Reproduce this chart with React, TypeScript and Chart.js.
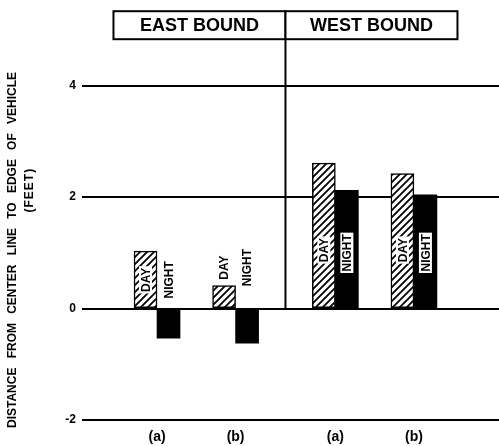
import { useEffect, useRef } from "react";
import { Chart, registerables } from "chart.js";

Chart.register(...registerables);

// ---- data ----
const groups = ["(a)", "(b)", "(a)", "(b)"];
const directions = ["EAST BOUND", "WEST BOUND"];
const seriesNames = ["DAY", "NIGHT"];
const dayValues = [1.03, 0.41, 2.61, 2.42];
const nightValues = [-0.53, -0.62, 2.12, 2.04];
const yTicks = [-2, 0, 2, 4];
const yTitle = ["DISTANCE FROM CENTER LINE TO EDGE OF VEHICLE", "(FEET)"];

// ---- layout helpers ----
const groupGap = 0.27; // extra space between the two directions
const xOf = (i: number) => i + (i >= 2 ? groupGap : 0);
const FONT = '"Liberation Sans", Arial, sans-serif';

function makeHatch(): CanvasPattern | string {
  const c = document.createElement("canvas");
  const s = 7;
  c.width = s;
  c.height = s;
  const g = c.getContext("2d");
  if (!g) return "#fff";
  g.fillStyle = "#fff";
  g.fillRect(0, 0, s, s);
  g.strokeStyle = "#000";
  g.lineWidth = 1.8;
  g.beginPath();
  g.moveTo(-1, s + 1);
  g.lineTo(s + 1, -1);
  g.moveTo(-1, 1);
  g.lineTo(1, -1);
  g.moveTo(s - 1, s + 1);
  g.lineTo(s + 1, s - 1);
  g.stroke();
  const p = g.createPattern(c, "repeat");
  return p || "#fff";
}

function drawVLabel(ctx: CanvasRenderingContext2D, text: string, cx: number, cy: number, bg: boolean) {
  ctx.save();
  ctx.translate(cx, cy);
  ctx.rotate(-Math.PI / 2);
  ctx.font = `bold 12px ${FONT}`;
  const w = ctx.measureText(text).width;
  if (bg) {
    ctx.fillStyle = "#fff";
    ctx.fillRect(-w / 2 - 1.5, -6.5, w + 3, 13);
  }
  ctx.fillStyle = "#000";
  ctx.textAlign = "center";
  ctx.textBaseline = "middle";
  ctx.fillText(text, 0, 1);
  ctx.restore();
}

const decorPlugin = {
  id: "decor",
  afterDatasetsDraw(chart: any) {
    const { ctx, chartArea, scales } = chart;
    const xs = scales.x;
    const ys = scales.y;
    const zeroY = ys.getPixelForValue(0);
    const divX = xs.getPixelForValue((xOf(1) + xOf(2)) / 2);
    ctx.save();
    ctx.strokeStyle = "#000";
    ctx.lineWidth = 2;
    // divider
    ctx.beginPath();
    ctx.moveTo(divX, chartArea.top - 2);
    ctx.lineTo(divX, zeroY);
    ctx.stroke();
    // header boxes
    const boxW = 172;
    const boxTop = chartArea.top - 2;
    const boxH = 28;
    directions.forEach((d, k) => {
      const left = k === 0 ? divX - boxW : divX;
      ctx.fillStyle = "#fff";
      ctx.fillRect(left, boxTop, boxW, boxH);
      ctx.strokeRect(left, boxTop, boxW, boxH);
      ctx.fillStyle = "#000";
      ctx.font = `bold 18px ${FONT}`;
      ctx.textAlign = "center";
      ctx.textBaseline = "middle";
      ctx.fillText(d, left + boxW / 2, boxTop + boxH / 2 + 1);
    });

    // bar labels
    const dayMeta = chart.getDatasetMeta(0);
    const nightMeta = chart.getDatasetMeta(1);
    ctx.font = `bold 12px ${FONT}`;
    const wDay = ctx.measureText(seriesNames[0]).width;
    groups.forEach((_, i) => {
      const dEl = dayMeta.data[i];
      const nEl = nightMeta.data[i];
      const dv = dayValues[i];
      const nv = nightValues[i];
      let dayCy: number;
      let dayIn: boolean;
      if (dv >= 0.8) {
        dayCy = ys.getPixelForValue(Math.min(dv / 2, 1.05));
        dayIn = true;
      } else {
        dayCy = dEl.y - 6 - wDay / 2;
        dayIn = false;
      }
      let nightCy: number;
      let nightIn: boolean;
      if (nv >= 0.8) {
        nightCy = ys.getPixelForValue(Math.min(nv / 2, 1));
        nightIn = true;
      } else {
        nightCy = dayCy;
        nightIn = false;
      }
      drawVLabel(ctx, seriesNames[0], dEl.x, dayCy, dayIn);
      drawVLabel(ctx, seriesNames[1], nEl.x, nightCy, nightIn);
    });

    // y-axis title
    ctx.fillStyle = "#000";
    ctx.textBaseline = "middle";
    ctx.textAlign = "left";
    const drawSpread = (text: string, cx: number, cy: number, len: number, ls: number) => {
      ctx.save();
      ctx.translate(cx, cy);
      ctx.rotate(-Math.PI / 2);
      ctx.font = `bold 12px ${FONT}`;
      (ctx as any).letterSpacing = `${ls}px`;
      (ctx as any).wordSpacing = "0px";
      const w0 = ctx.measureText(text).width;
      const gaps = text.split(" ").length - 1;
      if (gaps > 0) (ctx as any).wordSpacing = `${(len - w0) / gaps}px`;
      ctx.fillText(text, -len / 2, 0);
      ctx.restore();
    };
    drawSpread(yTitle[0], 12.5, 250, 356, 0);
    drawSpread(yTitle[1], 30, 191, 43, 1);
    ctx.restore();
  },
};

export default function App() {
  const ref = useRef<HTMLCanvasElement | null>(null);
  useEffect(() => {
    if (!ref.current) return;
    const hatch = makeHatch();
    const chart = new Chart(ref.current, {
      type: "bar",
      data: {
        datasets: [
          {
            label: seriesNames[0],
            data: dayValues.map((v, i) => ({ x: xOf(i), y: v })),
            backgroundColor: hatch as any,
            borderColor: "#000",
            borderWidth: 1.5,
            borderSkipped: false,
            barThickness: 23,
          },
          {
            label: seriesNames[1],
            data: nightValues.map((v, i) => ({ x: xOf(i), y: v })),
            backgroundColor: "#000",
            borderWidth: 0,
            barThickness: 23,
          },
        ],
      },
      options: {
        animation: false,
        responsive: false,
        devicePixelRatio: 1,
        layout: { padding: { top: 10, left: 0, right: 0, bottom: 0 } },
        plugins: { legend: { display: false }, tooltip: { enabled: false } },
        scales: {
          x: {
            type: "linear",
            min: -0.955,
            max: 4.353,
            bounds: "data",
            offset: false,
            grid: { display: false, drawTicks: false },
            border: { display: false },
            afterBuildTicks: (axis: any) => {
              axis.ticks = groups.map((_, i) => ({ value: xOf(i) }));
            },
            afterFit: (s: any) => {
              s.height = 26;
            },
            ticks: {
              autoSkip: false,
              maxRotation: 0,
              padding: 9,
              color: "#000",
              font: { family: FONT, size: 14, weight: "bold" },
              callback: (_v: any, idx: number) => groups[idx],
            },
          },
          y: {
            type: "linear",
            min: -2,
            max: 5.3,
            bounds: "data",
            afterBuildTicks: (axis: any) => {
              axis.ticks = yTicks.map((v) => ({ value: v }));
            },
            afterFit: (s: any) => {
              s.width = 82;
            },
            grid: { color: "#000", lineWidth: 2, drawTicks: false },
            border: { display: false },
            ticks: {
              padding: 6,
              color: "#000",
              font: { family: FONT, size: 12, weight: "bold" },
              callback: (v: any) => String(v),
            },
          },
        },
      },
      plugins: [decorPlugin],
    } as any);
    return () => chart.destroy();
  }, []);
  return (
    <div style={{ position: "absolute", left: 0, top: 0, width: 499, height: 446, background: "#fff" }}>
      <canvas ref={ref} width={499} height={446} />
    </div>
  );
}
